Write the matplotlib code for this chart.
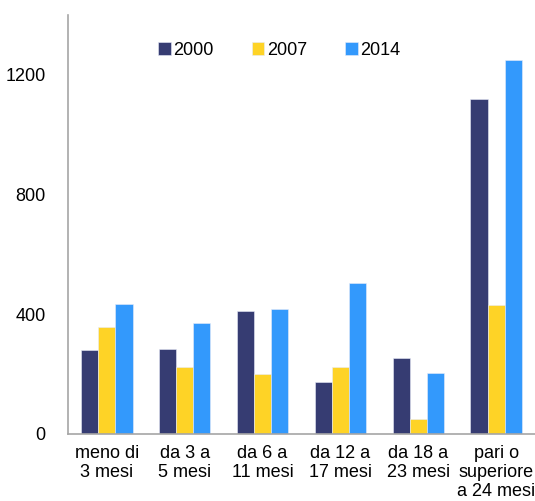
import numpy as np
import matplotlib.pyplot as plt

plt.rcParams['font.family'] = ['Liberation Sans', 'DejaVu Sans']

# Data
categories = ["meno di\n3 mesi", "da 3 a\n5 mesi", "da 6 a\n11 mesi",
              "da 12 a\n17 mesi", "da 18 a\n23 mesi", "pari o\nsuperiore\na 24 mesi"]
years = ["2000", "2007", "2014"]
v2000 = [280, 284, 410, 175, 253, 1118]
v2007 = [357, 223, 199, 222, 49, 431]
v2014 = [435, 371, 417, 504, 202, 1251]
colors = ["#363c72", "#fed326", "#3399fc"]

fig = plt.figure(figsize=(5.35, 5.01), dpi=100)
ax = fig.add_axes([0.127, 0.134, 0.873, 0.836])

x = np.arange(len(categories))
w = 0.22
for i, (vals, lab) in enumerate(zip([v2000, v2007, v2014], years)):
    ax.bar(x + (i - 1) * w, vals, w, color=colors[i], label=lab,
           edgecolor="#e8ecf8", linewidth=0.4)

ax.set_xlim(-0.5, len(categories) - 0.5)
ax.set_ylim(0, 1400)
ax.set_yticks([0, 400, 800, 1200])
ax.set_xticks(x)
ax.set_xticklabels(categories, fontsize=13, linespacing=1.15)
ax.tick_params(axis='y', labelsize=13, length=0, pad=16)
ax.tick_params(axis='x', length=0, pad=8)

for s in ["top", "right"]:
    ax.spines[s].set_visible(False)
for s in ["left", "bottom"]:
    ax.spines[s].set_color("#a6a6a6")
    ax.spines[s].set_linewidth(1.2)

ax.legend(loc="center", bbox_to_anchor=(0.522, 0.899), bbox_transform=fig.transFigure,
          ncol=3, frameon=False, fontsize=13, handlelength=0.7, handleheight=0.7,
          handletextpad=0.15, columnspacing=2.1)

fig.savefig("out.png", dpi=100)
